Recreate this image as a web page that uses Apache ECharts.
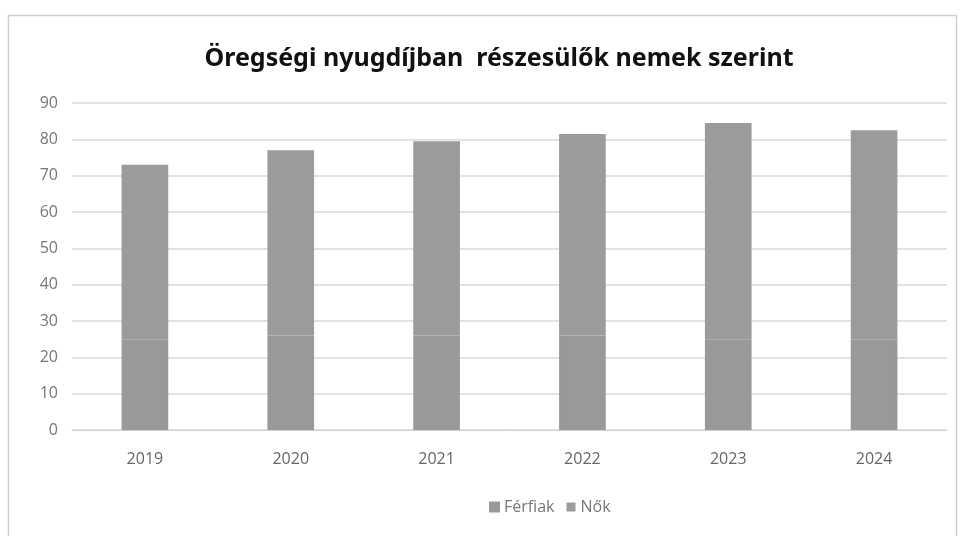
<!DOCTYPE html>
<html><head><meta charset="utf-8">
<script src="https://cdn.jsdelivr.net/npm/echarts@6/dist/echarts.min.js"></script>
<style>html,body{margin:0;padding:0;background:#fff}#c{width:961px;height:536px}</style>
</head><body><div id="c"></div>
<script>
const categories = ['2019','2020','2021','2022','2023','2024'];
const ferfiak = [25, 26, 26, 26, 25, 25];
const nok = [48, 51, 53.5, 55.5, 59.5, 57.5];
const yTicks = [0,10,20,30,40,50,60,70,80,90];

const chart = echarts.init(document.getElementById('c'));
const font = 'Open Sans, Noto Sans, sans-serif';
chart.setOption({
  animation: false,
  backgroundColor: '#fff',
  title: {
    text: 'Öregségi nyugdíjban  részesülők nemek szerint',
    left: 494, top: 41, textAlign: 'center',
    textStyle: {fontFamily: 'Noto Sans, sans-serif', fontWeight: 'bold', fontSize: 25, color: '#111'}
  },
  graphic: [{type:'rect', shape:{x:8.5,y:15.5,width:948,height:530}, style:{fill:'none', stroke:'#cfcfcf', lineWidth:1.5}, silent:true}],
  legend: {
    bottom: 16, left: 484, itemWidth: 9, itemHeight: 9, itemGap: 12,
    icon: 'rect',
    textStyle: {fontFamily: font, fontSize: 16, color: '#777'},
    data: ['Férfiak','Nők']
  },
  grid: {left: 72, right: 14, top: 103, bottom: 106},
  xAxis: {
    type: 'category', data: categories,
    axisLine: {lineStyle: {color: '#d0d0d0'}}, axisTick: {show: false},
    axisLabel: {fontFamily: font, fontSize: 16, color: '#666', margin: 21}
  },
  yAxis: {
    type: 'value', min: 0, max: 90, interval: 10,
    axisLine: {show: false}, axisTick: {show: false},
    splitLine: {lineStyle: {color: '#d9d9d9', width: 1.5}},
    axisLabel: {fontFamily: font, fontSize: 16, color: '#777', margin: 14,
      formatter: v => yTicks.includes(v) ? String(v) : ''}
  },
  series: [
    {name: 'Férfiak', type: 'bar', stack: 'a', data: ferfiak, barWidth: '32%', z: 3,
     itemStyle: {color: '#999999', borderColor: '#999999', borderWidth: 1.5}},
    {name: 'Nők', type: 'bar', stack: 'a', data: nok, barWidth: '32%', z: 2,
     itemStyle: {color: '#9b9b9b'}}
  ]
});
</script></body></html>
